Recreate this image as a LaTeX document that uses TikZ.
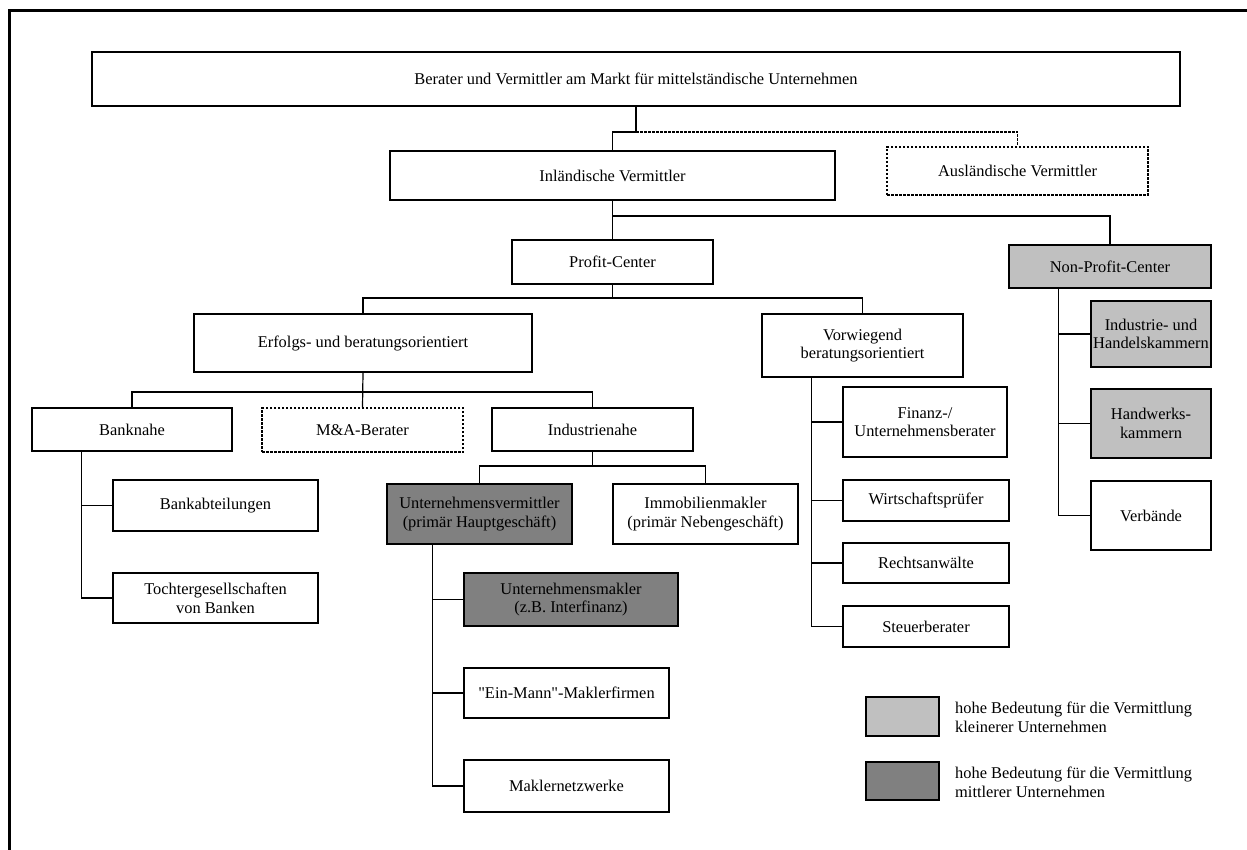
\documentclass[tikz,border=0pt]{standalone}
\usepackage{fontspec}
\setmainfont{Liberation Serif}[Ligatures=TeXOff]
\definecolor{lightg}{HTML}{C0C0C0}
\definecolor{darkg}{HTML}{808080}
\begin{document}
\begin{tikzpicture}[x=1pt,y=-1pt,
  box/.style={draw, line width=1.2pt, inner sep=0pt, align=center, font=\fontsize{16.4}{18.7}\selectfont},
  dbox/.style={box, dashed, dash pattern=on 2.5pt off 1.5pt},
  light/.style={box, fill=lightg},
  dark/.style={box, fill=darkg},
  conn/.style={line width=1.2pt},
  dconn/.style={line width=1.2pt, dash pattern=on 2.5pt off 1.5pt}]
\useasboundingbox (0,0) rectangle (1247,850);
\fill[white] (0,0) rectangle (1247,850);
\draw[line width=3pt] (9.5,850) -- (9.5,10.5) -- (1247,10.5);

\node[box, minimum width=1088, minimum height=54] (top) at (636,79) {Berater und Vermittler am Markt für mittelständische Unternehmen};
\node[box, minimum width=445, minimum height=49] (inl) at (612.5,175.5) {Inländische Vermittler};
\node[dbox, minimum width=261, minimum height=48] (ausl) at (1017.5,171) {Ausländische Vermittler};
\node[box, minimum width=201, minimum height=44] (pc) at (612.5,262) {Profit-Center};
\node[light, minimum width=202, minimum height=43] (npc) at (1110,266.5) {Non-Profit-Center};
\node[box, minimum width=338, minimum height=58] (erf) at (363,343) {Erfolgs- und beratungsorientiert};
\node[box, minimum width=201, minimum height=63] (vor) at (862.5,345.5) {Vorwiegend\\beratungsorientiert};
\node[box, minimum width=200, minimum height=43] (bank) at (132,429.5) {Banknahe};
\node[dbox, minimum width=201, minimum height=44] (ma) at (362.5,430) {M\&A-Berater};
\node[box, minimum width=201, minimum height=43] (ind) at (592.5,429.5) {Industrienahe};
\node[box, minimum width=205, minimum height=51] (babt) at (215.5,505.5) {Bankabteilungen};
\node[box, minimum width=205, minimum height=50] (toch) at (215.5,598) {Tochtergesellschaften\\von Banken};
\node[dark, minimum width=185, minimum height=60] (uv) at (479.5,514) {Unternehmensvermittler\\(primär Hauptgeschäft)};
\node[box, minimum width=185, minimum height=60] (immo) at (705.5,514) {Immobilienmakler\\(primär Nebengeschäft)};
\node[dark, minimum width=214, minimum height=53] (um) at (571,599.5) {Unternehmensmakler\\(z.B. Interfinanz)};
\node[box, minimum width=205, minimum height=50] (ein) at (566.5,693) {"Ein-Mann"-Maklerfirmen};
\node[box, minimum width=205, minimum height=52] (mak) at (566.5,786) {Maklernetzwerke};
\node[box, minimum width=164, minimum height=70] (fin) at (925,422) {Finanz-/\\Unternehmensberater};
\node[box, minimum width=166, minimum height=41] (wp) at (926,500.5) {Wirtschaftsprüfer};
\node[box, minimum width=166, minimum height=40] (ra) at (926,563) {Rechtsanwälte};
\node[box, minimum width=166, minimum height=41] (st) at (926,626.5) {Steuerberater};
\node[light, minimum width=120, minimum height=66] (ihk) at (1151,334) {Industrie- und\\Handelskammern};
\node[light, minimum width=120, minimum height=69] (hwk) at (1151,423.5) {Handwerks-\\kammern};
\node[box, minimum width=120, minimum height=69] (verb) at (1151,515.5) {Verbände};

% legend
\node[light, minimum width=73, minimum height=39] (leg1) at (902.5,716.5) {};
\node[dark, minimum width=73, minimum height=38] (leg2) at (902.5,781) {};
\node[anchor=west, align=left, inner sep=0pt, font=\fontsize{16.4}{18.7}\selectfont] (leg1t) at (955,717) {hohe Bedeutung für die Vermittlung\\kleinerer Unternehmen};
\node[anchor=west, align=left, inner sep=0pt, font=\fontsize{16.4}{18.7}\selectfont] (leg2t) at (955,782) {hohe Bedeutung für die Vermittlung\\mittlerer Unternehmen};

% connectors
\coordinate (j0) at (636,132);
\draw[conn] (top.south) -- (j0) -| (inl.north);
\draw[dconn] (j0) -| (ausl.north);

\coordinate (j1) at (612.5,216);
\draw[conn] (inl.south) -- (pc.north);
\draw[conn] (j1) -| (npc.north);

\coordinate (j2) at (612.5,298);
\draw[conn] (pc.south) -- (j2);
\draw[conn] (erf.north) |- (j2) -| (vor.north);

\coordinate (j3) at (363,392);
\draw[conn] (erf.south) -- (ma.north);
\draw[conn] (bank.north) |- (j3) -| (ind.north);

\draw[conn] ([xshift=50pt]bank.south west) |- (toch.west);
\draw[conn] ([xshift=50pt]bank.south west) |- (babt.west);

\coordinate (j4) at (592.5,466);
\draw[conn] (ind.south) -- (j4);
\draw[conn] (uv.north) |- (j4) -| (immo.north);

\draw[conn] ([xshift=46pt]uv.south west) |- (mak.west);
\draw[conn] ([xshift=46pt]uv.south west) |- (um.west);
\draw[conn] ([xshift=46pt]uv.south west) |- (ein.west);

\draw[conn] ([xshift=50pt]vor.south west) |- (st.west);
\draw[conn] ([xshift=50pt]vor.south west) |- (fin.west);
\draw[conn] ([xshift=50pt]vor.south west) |- (wp.west);
\draw[conn] ([xshift=50pt]vor.south west) |- (ra.west);

\draw[conn] ([xshift=50pt]npc.south west) |- (verb.west);
\draw[conn] ([xshift=50pt]npc.south west) |- (ihk.west);
\draw[conn] ([xshift=50pt]npc.south west) |- (hwk.west);
\end{tikzpicture}
\end{document}
